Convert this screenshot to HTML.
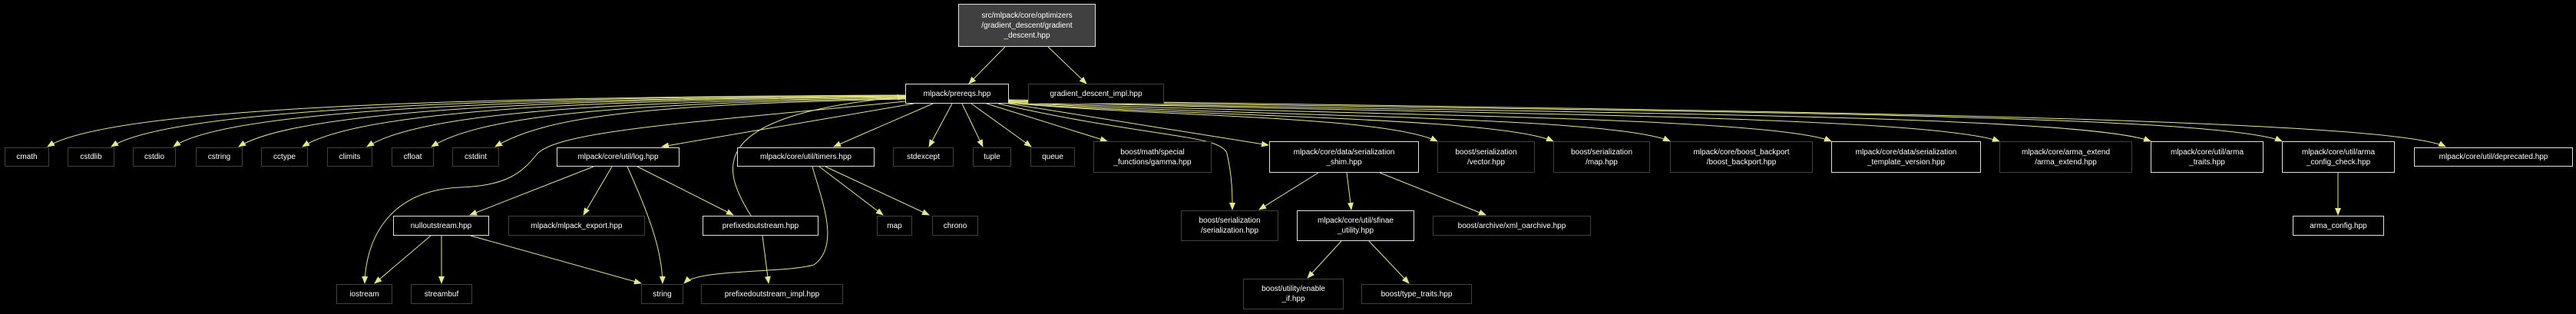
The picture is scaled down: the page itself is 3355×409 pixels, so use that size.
<!DOCTYPE html>
<html><head><meta charset="utf-8"><style>
html,body{margin:0;padding:0;background:#000;}
#c{position:relative;width:3355px;height:409px;background:#000;overflow:hidden;font-family:"Liberation Sans",sans-serif;}
.n{position:absolute;box-sizing:border-box;border:1px solid #404040;color:#fff;font-size:10px;line-height:13px;display:flex;align-items:center;justify-content:center;text-align:center;white-space:nowrap;background:#000;}
.w{border-color:#e0e0e0;}
svg{position:absolute;left:0;top:0;}
</style></head><body><div id="c">
<svg width="3355" height="409" viewBox="0 0 3355 409">
<defs><marker id="a" markerWidth="10" markerHeight="8" refX="9" refY="4" orient="auto" markerUnits="userSpaceOnUse"><path d="M0,0 L10,4 L0,8 z" fill="#e6e68a"/></marker></defs>
<g fill="none" stroke="#e6e68a" stroke-width="1" marker-end="url(#a)">
<path d="M1309,61 L1262,109"/>
<path d="M1365,61 L1415,109"/>
<path d="M1179,124 C700,126 150,135 62,191"/>
<path d="M1179,124 C720,127 230,137 145,191"/>
<path d="M1179,125 C740,128 300,139 226,191"/>
<path d="M1179,125 C760,129 390,141 311,191"/>
<path d="M1179,126 C780,130 470,143 394,191"/>
<path d="M1179,127 C800,132 550,146 478,191"/>
<path d="M1179,128 C820,134 630,149 562,191"/>
<path d="M1179,129 C840,136 710,152 645,191"/>
<path d="M1179,132 C900,160 730,170 700,200 C680,225 660,242 600,244 C500,248 476,320 475,369"/>
<path d="M1190,135 L862,191"/>
<path d="M1215,135 L1086,191"/>
<path d="M1240,135 L1210,191"/>
<path d="M1253,135 L1280,191"/>
<path d="M1265,135 L1343,191"/>
<path d="M1285,135 L1442,184"/>
<path d="M1300,135 C1500,180 1590,175 1598,200 C1605,230 1605,255 1605,273"/>
<path d="M1314,135 L1652,189"/>
<path d="M1314,134 C1500,152 1800,150 1872,184"/>
<path d="M1314,134 C1550,152 1950,152 2023,184"/>
<path d="M1314,133 C1600,152 2100,150 2175,184"/>
<path d="M1314,133 C1700,150 2300,150 2385,184"/>
<path d="M1314,132 C1800,148 2500,148 2604,184"/>
<path d="M1314,132 C1900,147 2700,146 2801,184"/>
<path d="M1314,131 C2000,145 2880,145 2972,184"/>
<path d="M1314,130 C2100,143 3100,150 3185,191"/>
<path d="M978,281 C940,220 915,150 1178,126"/>
<path d="M1058,217 C1070,260 1095,320 1060,345 C1020,356 910,350 891,369"/>
<path d="M1067,217 L1150,280"/>
<path d="M1075,217 L1210,280"/>
<path d="M773,217 L612,280"/>
<path d="M797,217 L760,280"/>
<path d="M817,217 C850,290 862,330 863,369"/>
<path d="M830,217 L955,280"/>
<path d="M561,307 L488,369"/>
<path d="M575,307 L575,369"/>
<path d="M613,307 L835,369"/>
<path d="M993,307 L1001,369"/>
<path d="M1717,225 L1640,273"/>
<path d="M1754,225 L1760,273"/>
<path d="M1797,225 L1935,280"/>
<path d="M1747,314 L1703,362"/>
<path d="M1783,314 L1835,369"/>
<path d="M3045,225 L3045,280"/>
</g></svg>
<div class="n w" style="left:1248px;top:5px;width:179px;height:56px;background:#404040;">src/mlpack/core/optimizers<br>/gradient_descent/gradient<br>_descent.hpp</div>
<div class="n w" style="left:1179px;top:109px;width:135px;height:26px;">mlpack/prereqs.hpp</div>
<div class="n" style="left:1339px;top:109px;width:177px;height:26px;">gradient_descent_impl.hpp</div>
<div class="n" style="left:6px;top:192px;width:58px;height:25px;">cmath</div>
<div class="n" style="left:88px;top:192px;width:61px;height:25px;">cstdlib</div>
<div class="n" style="left:173px;top:192px;width:56px;height:25px;">cstdio</div>
<div class="n" style="left:255px;top:192px;width:61px;height:25px;">cstring</div>
<div class="n" style="left:340px;top:192px;width:61px;height:25px;">cctype</div>
<div class="n" style="left:426px;top:192px;width:59px;height:25px;">climits</div>
<div class="n" style="left:510px;top:192px;width:55px;height:25px;">cfloat</div>
<div class="n" style="left:589px;top:192px;width:61px;height:25px;">cstdint</div>
<div class="n w" style="left:725px;top:192px;width:160px;height:25px;">mlpack/core/util/log.hpp</div>
<div class="n w" style="left:960px;top:192px;width:179px;height:25px;">mlpack/core/util/timers.hpp</div>
<div class="n" style="left:1163px;top:192px;width:79px;height:25px;">stdexcept</div>
<div class="n" style="left:1267px;top:192px;width:50px;height:25px;">tuple</div>
<div class="n" style="left:1342px;top:192px;width:58px;height:25px;">queue</div>
<div class="n" style="left:1424px;top:184px;width:154px;height:41px;">boost/math/special<br>_functions/gamma.hpp</div>
<div class="n w" style="left:1653px;top:184px;width:195px;height:41px;">mlpack/core/data/serialization<br>_shim.hpp</div>
<div class="n" style="left:1872px;top:184px;width:127px;height:41px;">boost/serialization<br>/vector.hpp</div>
<div class="n" style="left:2023px;top:184px;width:126px;height:41px;">boost/serialization<br>/map.hpp</div>
<div class="n" style="left:2175px;top:184px;width:186px;height:41px;">mlpack/core/boost_backport<br>/boost_backport.hpp</div>
<div class="n w" style="left:2385px;top:184px;width:195px;height:41px;">mlpack/core/data/serialization<br>_template_version.hpp</div>
<div class="n" style="left:2604px;top:184px;width:173px;height:41px;">mlpack/core/arma_extend<br>/arma_extend.hpp</div>
<div class="n w" style="left:2801px;top:184px;width:147px;height:41px;">mlpack/core/util/arma<br>_traits.hpp</div>
<div class="n w" style="left:2972px;top:184px;width:147px;height:41px;">mlpack/core/util/arma<br>_config_check.hpp</div>
<div class="n w" style="left:3144px;top:192px;width:207px;height:25px;">mlpack/core/util/deprecated.hpp</div>
<div class="n w" style="left:512px;top:281px;width:125px;height:26px;">nulloutstream.hpp</div>
<div class="n" style="left:662px;top:281px;width:178px;height:26px;">mlpack/mlpack_export.hpp</div>
<div class="n w" style="left:915px;top:281px;width:151px;height:26px;">prefixedoutstream.hpp</div>
<div class="n" style="left:1142px;top:281px;width:46px;height:26px;">map</div>
<div class="n" style="left:1214px;top:281px;width:60px;height:26px;">chrono</div>
<div class="n" style="left:1538px;top:274px;width:127px;height:40px;">boost/serialization<br>/serialization.hpp</div>
<div class="n w" style="left:1689px;top:274px;width:153px;height:40px;">mlpack/core/util/sfinae<br>_utility.hpp</div>
<div class="n" style="left:1866px;top:281px;width:206px;height:26px;">boost/archive/xml_oarchive.hpp</div>
<div class="n w" style="left:2986px;top:281px;width:119px;height:26px;">arma_config.hpp</div>
<div class="n" style="left:438px;top:370px;width:73px;height:26px;">iostream</div>
<div class="n" style="left:535px;top:370px;width:80px;height:26px;">streambuf</div>
<div class="n" style="left:835px;top:370px;width:55px;height:26px;">string</div>
<div class="n" style="left:913px;top:370px;width:185px;height:26px;">prefixedoutstream_impl.hpp</div>
<div class="n" style="left:1619px;top:363px;width:131px;height:40px;">boost/utility/enable<br>_if.hpp</div>
<div class="n" style="left:1773px;top:370px;width:144px;height:26px;">boost/type_traits.hpp</div>
</div></body></html>
